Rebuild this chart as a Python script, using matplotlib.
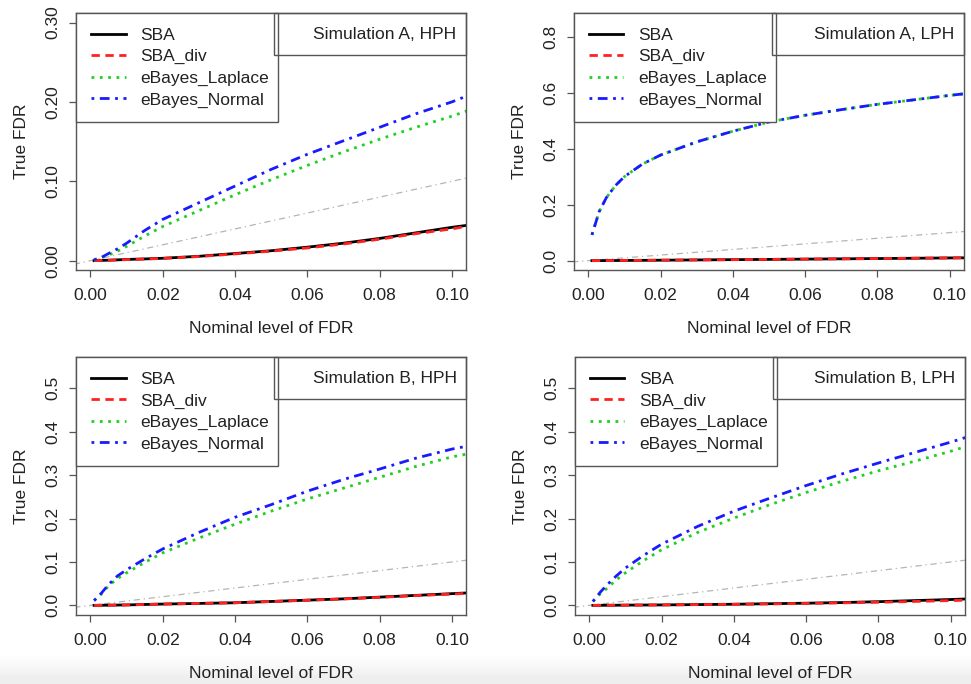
import matplotlib
matplotlib.use("Agg")
import matplotlib.pyplot as plt
from matplotlib.patches import Rectangle

plt.rcParams['font.family'] = ['Liberation Sans', 'DejaVu Sans']

# nominal FDR level (x axis)
nominal = [0.001, 0.003, 0.005, 0.0075, 0.01, 0.015, 0.02, 0.03, 0.04,
           0.05, 0.06, 0.07, 0.08, 0.09, 0.10, 0.105]

# Simulation A, HPH
sba_a_hph = [0.0, 0.0003, 0.0006, 0.001, 0.0015, 0.0022, 0.003, 0.0055, 0.009,
             0.0125, 0.017, 0.022, 0.028, 0.035, 0.042, 0.045]
div_a_hph = [0.0, 0.0003, 0.0005, 0.0009, 0.0013, 0.002, 0.0028, 0.0052, 0.0085,
             0.012, 0.016, 0.021, 0.027, 0.034, 0.040, 0.044]
lap_a_hph = [0.001, 0.004, 0.007, 0.012, 0.018, 0.031, 0.043, 0.063, 0.083,
             0.102, 0.120, 0.137, 0.153, 0.168, 0.182, 0.190]
nor_a_hph = [0.001, 0.004, 0.009, 0.015, 0.022, 0.038, 0.052, 0.073, 0.094,
             0.115, 0.134, 0.151, 0.168, 0.185, 0.200, 0.209]

# Simulation A, LPH
sba_a_lph = [0.0, 0.0001, 0.0003, 0.0005, 0.0007, 0.0011, 0.0016, 0.0026, 0.0036,
             0.0045, 0.0055, 0.0065, 0.0075, 0.0086, 0.0097, 0.0102]
div_a_lph = [0.0, 0.0001, 0.0003, 0.0005, 0.0007, 0.0011, 0.0016, 0.0026, 0.0036,
             0.0045, 0.0055, 0.0065, 0.0075, 0.0086, 0.0097, 0.0102]
lap_a_lph = [0.092, 0.175, 0.225, 0.268, 0.300, 0.345, 0.377, 0.424, 0.462,
             0.495, 0.519, 0.539, 0.558, 0.574, 0.590, 0.597]
nor_a_lph = [0.092, 0.175, 0.225, 0.268, 0.300, 0.345, 0.377, 0.424, 0.462,
             0.495, 0.519, 0.539, 0.558, 0.574, 0.590, 0.597]

# Simulation B, HPH
sba_b_hph = [0.0, 0.0002, 0.0004, 0.0007, 0.001, 0.002, 0.003, 0.0045, 0.006,
             0.009, 0.012, 0.015, 0.019, 0.023, 0.027, 0.029]
div_b_hph = [0.0, 0.0002, 0.0004, 0.0007, 0.001, 0.002, 0.003, 0.0045, 0.006,
             0.0088, 0.0118, 0.0148, 0.0185, 0.0225, 0.026, 0.028]
lap_b_hph = [0.011, 0.026, 0.045, 0.062, 0.075, 0.099, 0.121, 0.155, 0.187,
             0.217, 0.245, 0.270, 0.295, 0.320, 0.342, 0.350]
nor_b_hph = [0.011, 0.028, 0.048, 0.068, 0.082, 0.107, 0.130, 0.168, 0.203,
             0.232, 0.263, 0.290, 0.314, 0.339, 0.360, 0.368]

# Simulation B, LPH
sba_b_lph = [0.0, 0.0001, 0.0002, 0.0003, 0.0005, 0.0008, 0.001, 0.0018, 0.0026,
             0.0038, 0.005, 0.0065, 0.0085, 0.011, 0.0135, 0.015]
div_b_lph = [0.0, 0.0001, 0.0002, 0.0003, 0.0005, 0.0008, 0.001, 0.0017, 0.0024,
             0.0034, 0.0045, 0.0058, 0.0072, 0.009, 0.011, 0.012]
lap_b_lph = [0.009, 0.026, 0.040, 0.059, 0.075, 0.103, 0.128, 0.168, 0.201,
             0.232, 0.260, 0.286, 0.310, 0.332, 0.355, 0.368]
nor_b_lph = [0.009, 0.030, 0.048, 0.068, 0.086, 0.115, 0.141, 0.182, 0.217,
             0.247, 0.276, 0.303, 0.328, 0.352, 0.376, 0.389]

titles = ["Simulation A, HPH", "Simulation A, LPH",
          "Simulation B, HPH", "Simulation B, LPH"]
series_names = ["SBA", "SBA_div", "eBayes_Laplace", "eBayes_Normal"]
y_max = [0.30, 0.85, 0.55, 0.55]
y_ticks = [[0.0, 0.1, 0.2, 0.3], [0.0, 0.2, 0.4, 0.6, 0.8],
           [0.0, 0.1, 0.2, 0.3, 0.4, 0.5], [0.0, 0.1, 0.2, 0.3, 0.4, 0.5]]
y_ticklabels = [["0.00", "0.10", "0.20", "0.30"],
                ["0.0", "0.2", "0.4", "0.6", "0.8"],
                ["0.0", "0.1", "0.2", "0.3", "0.4", "0.5"],
                ["0.0", "0.1", "0.2", "0.3", "0.4", "0.5"]]
x_ticks = [0.0, 0.02, 0.04, 0.06, 0.08, 0.10]
x_ticklabels = ["0.00", "0.02", "0.04", "0.06", "0.08", "0.10"]

panel_data = [
    [sba_a_hph, div_a_hph, lap_a_hph, nor_a_hph],
    [sba_a_lph, div_a_lph, lap_a_lph, nor_a_lph],
    [sba_b_hph, div_b_hph, lap_b_hph, nor_b_hph],
    [sba_b_lph, div_b_lph, lap_b_lph, nor_b_lph],
]

colors = ["black", "#ff2020", "#1fd01f", "#1a1aff"]
dashes = [None, (3, 2), (1, 2), (1, 2, 3.5, 2)]
text_col = "#222222"
box_col = "#555555"

fig = plt.figure(figsize=(9.71, 6.84), dpi=100)

# light grey fade along the bottom edge of the screenshot
bg = fig.add_axes([0, 0, 1, 0.05], zorder=-10)
bg.imshow([[1.0], [0.97], [0.93]], cmap="gray", vmin=0, vmax=1,
          aspect="auto", interpolation="bilinear")
bg.axis("off")

positions = [[0.0783, 0.605, 0.402, 0.376],
             [0.591, 0.605, 0.402, 0.376],
             [0.0783, 0.101, 0.402, 0.377],
             [0.592, 0.101, 0.402, 0.377]]

for k in range(4):
    ax = fig.add_axes(positions[k])
    # y = x reference
    ax.plot([-0.01, 0.2], [-0.01, 0.2], color="#b5b5b5", lw=0.9,
            dashes=(1, 3, 5, 3))
    lines = []
    for s in range(4):
        ln, = ax.plot(nominal, panel_data[k][s], color=colors[s], lw=2,
                      label=series_names[s])
        if dashes[s] is not None:
            ln.set_dashes(dashes[s])
        lines.append(ln)
    ax.set_xlim(-0.004, 0.104)
    ax.set_ylim(-0.04 * y_max[k], 1.04 * y_max[k])
    ax.set_xticks(x_ticks)
    ax.set_xticklabels(x_ticklabels)
    ax.set_yticks(y_ticks[k])
    ax.set_yticklabels(y_ticklabels[k], rotation=90, va="center")
    ax.tick_params(direction="out", length=5, width=0.9, colors=box_col,
                   labelcolor=text_col, labelsize=12.5)
    ax.tick_params(axis="x", pad=8)
    ax.tick_params(axis="y", pad=6)
    for sp in ax.spines.values():
        sp.set_color(box_col)
        sp.set_linewidth(1.0)
    ax.set_xlabel("Nominal level of FDR", fontsize=12.5, color=text_col, labelpad=13)
    ax.set_ylabel("True FDR", fontsize=12.5, color=text_col, labelpad=12)

    leg = ax.legend(handles=lines, loc="upper left", bbox_to_anchor=(0, 0, 0.518, 1),
                    mode="expand", borderaxespad=0, fancybox=False, framealpha=1,
                    edgecolor=box_col, fontsize=12.5, handlelength=2.0,
                    handletextpad=0.85, labelspacing=0.36, borderpad=0.85)
    leg.get_frame().set_linewidth(1.0)
    for t in leg.get_texts():
        t.set_color(text_col)

    ax.add_patch(Rectangle((0.507, 0.837), 0.493, 0.163, transform=ax.transAxes,
                           fill=False, edgecolor=box_col, lw=1.0, clip_on=False,
                           zorder=6))
    ax.text(0.975, 0.918, titles[k], transform=ax.transAxes, ha="right",
            va="center", fontsize=12.5, color=text_col, zorder=7)

fig.savefig("out.png", dpi=100)
